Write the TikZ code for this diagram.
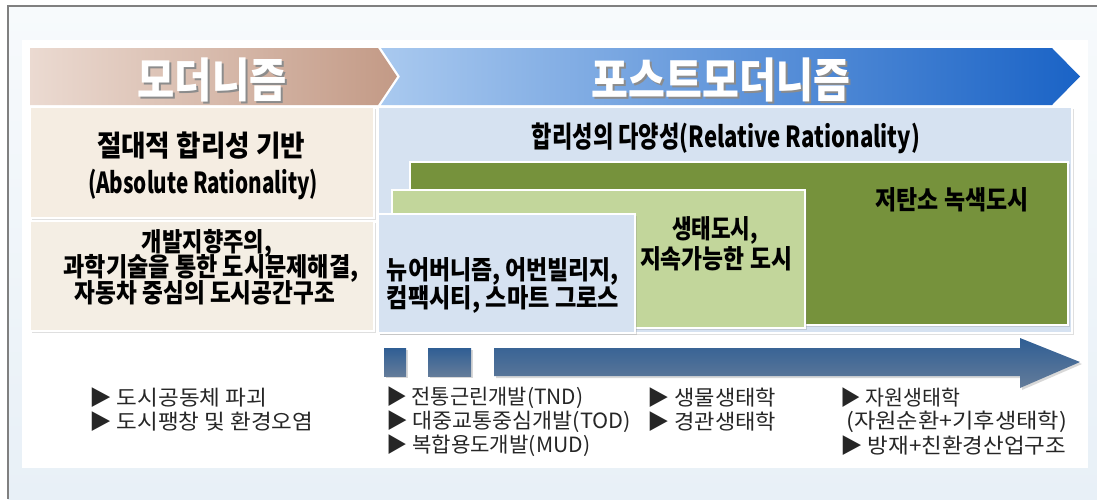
\documentclass[tikz,border=0pt]{standalone}
\usepackage{fontspec}
\usepackage{graphicx}
\newfontfamily\kr{Noto Sans CJK KR}
\usetikzlibrary{shadows}
\definecolor{bgtop}{HTML}{F7FAFC}
\definecolor{bgbot}{HTML}{E8F0F7}
\definecolor{frame}{HTML}{808080}
\definecolor{creamA}{HTML}{F5EDE2}
\definecolor{creamB}{HTML}{F4EEE4}
\definecolor{paleblue}{HTML}{D6E2F1}
\definecolor{darkgreen}{HTML}{76923C}
\definecolor{lightgreen}{HTML}{C2D69B}
\definecolor{modL}{HTML}{EBDAD1}
\definecolor{modR}{HTML}{C39A86}
\definecolor{postL}{HTML}{A9C9EF}
\definecolor{postR}{HTML}{1A63C6}
\definecolor{arrTop}{HTML}{2F5E94}
\definecolor{arrBot}{HTML}{647C9A}
\newcommand{\fw}[2]{\resizebox{#1pt}{\height}{#2}}
\tikzset{
  box/.style={draw=white, line width=2pt, inner sep=0pt,
    drop shadow={shadow xshift=1.5pt, shadow yshift=-1.5pt, opacity=0.25}},
  titletxt/.style={inner sep=0pt, text=white, font=\kr\bfseries\fontsize{47}{47}\selectfont},
  titleshadow/.style={inner sep=0pt, text=black!45, font=\kr\bfseries\fontsize{47}{47}\selectfont},
  boxtxt/.style={inner sep=0pt, text=black, font=\kr\bfseries\fontsize{29}{29}\selectfont},
  midtxt/.style={inner sep=0pt, text=black, font=\kr\bfseries\fontsize{26}{26}\selectfont},
  item/.style={inner sep=0pt, anchor=west, text=black!85, font=\kr\fontsize{21}{21}\selectfont},
  bar/.style={top color=arrTop, bottom color=arrBot,
    drop shadow={shadow xshift=2pt, shadow yshift=-2pt, opacity=0.3}}
}
\begin{document}
\begin{tikzpicture}[x=1pt,y=-1pt]
\useasboundingbox (0,0) rectangle (1097,499);
% background and frame
\fill[white] (0,0) rectangle (1097,499);
\shade[top color=bgtop, bottom color=bgbot] (8,6) rectangle (1097,499);
\fill[white] (22,40) rectangle (1088,468);
\draw[frame, line width=1.5pt] (8,499) -- (8,6) -- (1097,6);

% header chevrons
\shade[left color=postL, right color=postR]
  (381,48) -- (1052,48) -- (1080,76.5) -- (1052,105) -- (381,105) -- (400,76.5) -- cycle;
\shade[left color=modL, right color=modR]
  (30,48) -- (378,48) -- (397,76.5) -- (378,105) -- (30,105) -- cycle;
\node[titleshadow] (modS) at (214,82) {\fw{149}{모더니즘}};
\node[titletxt] (mod) at (212,80) {\fw{149}{모더니즘}};
\node[titleshadow] (postS) at (723,82) {\fw{258}{포스트모더니즘}};
\node[titletxt] (post) at (721,80) {\fw{258}{포스트모더니즘}};

% left boxes
\node[box, fill=creamA, minimum width=344, minimum height=111] (lb1) at (202,162.5) {};
\node[box, fill=creamB, minimum width=344, minimum height=110] (lb2) at (202,276) {};
\node[boxtxt] (abs1) at (201,146) {\fw{208}{절대적 합리성 기반}};
\node[boxtxt] (abs2) at (203,184) {\fw{230}{(Absolute Rationality)}};
\node[midtxt] (dev1) at (207,243) {\fw{130}{개발지향주의,}};
\node[midtxt] (dev2) at (211,268) {\fw{295}{과학기술을 통한 도시문제해결,}};
\node[midtxt] (dev3) at (205,293) {\fw{260}{자동차 중심의 도시공간구조}};

% right boxes
\node[box, fill=paleblue, minimum width=694, minimum height=226] (rb) at (725,220) {};
\node[box, fill=darkgreen, minimum width=658, minimum height=163] (dg) at (739,243.5) {};
\node[box, fill=lightgreen, minimum width=413, minimum height=138] (lg) at (598.5,259) {};
\node[box, fill=paleblue, minimum width=257, minimum height=119] (lbb) at (506.5,273.5) {};
\node[boxtxt] (rel) at (726,138) {\fw{388}{합리성의 다양성(Relative Rationality)}};
\node[midtxt] (low) at (952,200) {\fw{153}{저탄소 녹색도시}};
\node[midtxt] (eco1) at (715,230) {\fw{86}{생태도시,}};
\node[midtxt] (eco2) at (716,259) {\fw{152}{지속가능한 도시}};
\node[midtxt] (nu1) at (503,271) {\fw{232}{뉴어버니즘, 어번빌리지,}};
\node[midtxt] (nu2) at (503,299) {\fw{232}{컴팩시티, 스마트 그로스}};

% timeline arrow
\shade[bar] (384,348) rectangle (406,376);
\shade[bar] (428,348) rectangle (471,376);
\shade[bar] (494,348) -- (1020,348) -- (1020,338) -- (1080,362) -- (1020,388) -- (1020,376) -- (494,376) -- cycle;

% bottom lists
\node[item] (a1) at (89,398) {\fw{178}{▶ 도시공동체 파괴}};
\node[item] (a2) at (89,422) {\fw{224}{▶ 도시팽창 및 환경오염}};
\node[item] (b1) at (386,398) {\fw{197}{▶ 전통근린개발(TND)}};
\node[item] (b2) at (386,422) {\fw{245}{▶ 대중교통중심개발(TOD)}};
\node[item] (b3) at (386,446) {\fw{204}{▶ 복합용도개발(MUD)}};
\node[item] (c1) at (647,398) {\fw{129}{▶ 생물생태학}};
\node[item] (c2) at (647,422) {\fw{129}{▶ 경관생태학}};
\node[item] (d1) at (840,398) {\fw{120}{▶ 자원생태학}};
\node[item] (d2) at (846,422) {\fw{221}{(자원순환+기후생태학)}};
\node[item] (d3) at (840,446) {\fw{226}{▶ 방재+친환경산업구조}};
\end{tikzpicture}
\end{document}
